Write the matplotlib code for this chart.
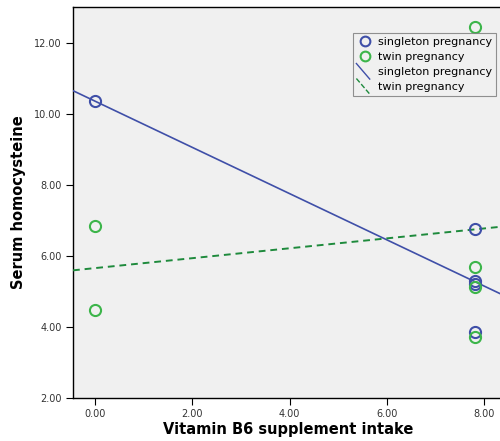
import numpy as np
import matplotlib
matplotlib.use("Agg")
import matplotlib.pyplot as plt
from matplotlib.lines import Line2D
from matplotlib.legend_handler import HandlerLine2D

plt.rcParams.update({"font.family": "DejaVu Sans"})

# vitamin B6 intake vs serum homocysteine, by pregnancy type
single_x = [0.0, 7.8, 7.8, 7.8, 7.8]
single_y = [10.37, 6.75, 5.30, 5.20, 3.85]
twin_x = [0.0, 0.0, 7.8, 7.8, 7.8, 7.8]
twin_y = [6.84, 4.47, 12.45, 5.70, 5.12, 3.72]

xticks = [0, 2, 4, 6, 8]
yticks = [2, 4, 6, 8, 10, 12]

BLUE = "#3f4fa8"
GREEN = "#3cb54a"
LINE_GREEN = "#1e8a3c"
BG = "#f0f0f0"


class DiagonalLine(HandlerLine2D):
    # fit-line legend keys drawn as a short diagonal stroke
    def create_artists(self, legend, orig, xd, yd, width, height, fontsize, trans):
        ln = Line2D([0, width * 0.8], [height * 1.5, -height * 0.5],
                    color=orig.get_color(), lw=orig.get_linewidth(),
                    ls=orig.get_linestyle())
        ln.set_transform(trans)
        return [ln]


fig = plt.figure(figsize=(5, 4.41), dpi=100)
ax = fig.add_axes([0.146, 0.0982, 0.86, 0.8866])
ax.set_facecolor(BG)

xlim = (-0.445, 8.38)
ax.set_xlim(*xlim)
ax.set_ylim(2.0, 13.03)

ms = 8
ax.plot(single_x, single_y, "o", mfc="none", mec=BLUE, mew=1.5, ms=ms, zorder=4)
ax.plot(twin_x, twin_y, "o", mfc="none", mec=GREEN, mew=1.5, ms=ms, zorder=4)

# least-squares fit lines across the full x range
xs = np.array(xlim)
b1 = np.polyfit(single_x, single_y, 1)
b2 = np.polyfit(twin_x, twin_y, 1)
ax.plot(xs, np.polyval(b1, xs), color=BLUE, lw=1.2, zorder=3)
ax.plot(xs, np.polyval(b2, xs), color=LINE_GREEN, lw=1.4, ls=(0, (3.5, 2.5)), zorder=3)

ax.set_xticks(xticks)
ax.set_xticklabels([f"{v:.2f}" for v in xticks], fontsize=7, color="#333333")
ax.set_yticks(yticks)
ax.set_yticklabels([f"{v:.2f}" for v in yticks], fontsize=7, color="#333333")
ax.tick_params(direction="out", length=5, width=0.8, pad=3)
ax.spines["right"].set_visible(False)
for s in ["left", "bottom", "top"]:
    ax.spines[s].set_linewidth(1.0)

ax.set_xlabel("Vitamin B6 supplement intake", fontsize=10.5, fontweight="bold", labelpad=2)
ax.set_ylabel("Serum homocysteine", fontsize=10.5, fontweight="bold", labelpad=6)

handles = [
    Line2D([], [], ls="none", marker="o", mfc="none", mec=BLUE, mew=1.5, ms=7),
    Line2D([], [], ls="none", marker="o", mfc="none", mec=GREEN, mew=1.5, ms=7),
    Line2D([], [], color=BLUE, lw=1.0),
    Line2D([], [], color=LINE_GREEN, lw=1.0, ls=(0, (2, 3))),
]
labels = ["singleton pregnancy", "twin pregnancy", "singleton pregnancy", "twin pregnancy"]
leg = ax.legend(handles, labels, loc="upper left", bbox_to_anchor=(0.650, 0.932),
                fontsize=8, frameon=True, fancybox=False, facecolor=BG,
                edgecolor="#777777", borderpad=0.35, labelspacing=0.45,
                handlelength=1.5, handletextpad=0.4, borderaxespad=0,
                handler_map={handles[2]: DiagonalLine(), handles[3]: DiagonalLine()})
leg.get_frame().set_linewidth(0.8)

fig.savefig("out.png", dpi=100)
